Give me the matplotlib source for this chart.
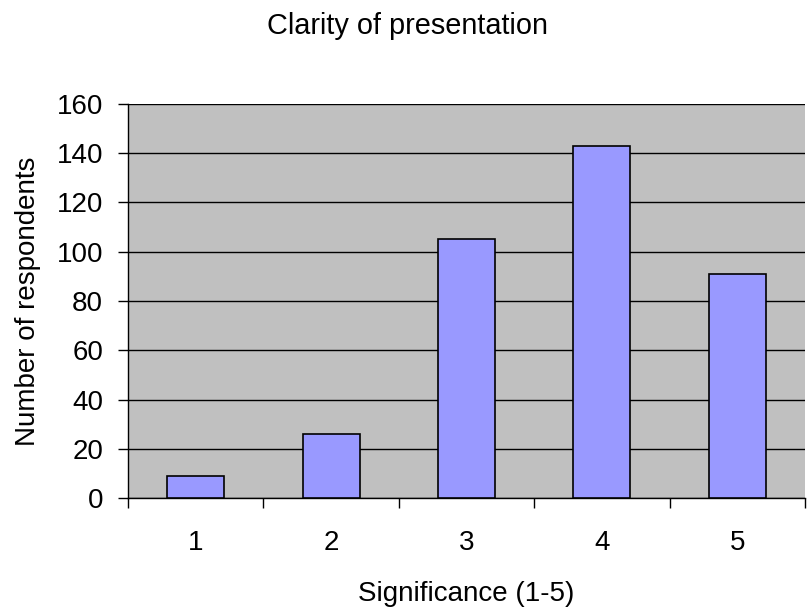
import matplotlib.pyplot as plt
import numpy as np

plt.rcParams['font.family'] = ['Liberation Sans', 'DejaVu Sans']

categories = ["1", "2", "3", "4", "5"]
respondents = [9, 26, 105, 143, 91]
y_ticks = [0, 20, 40, 60, 80, 100, 120, 140, 160]

fig = plt.figure(figsize=(8.07, 6.13), dpi=100, facecolor='white')
ax = fig.add_axes([128 / 807, 115 / 613, 677 / 807, 394 / 613])
ax.set_facecolor('#C0C0C0')

x = np.arange(len(categories))
ax.bar(x, respondents, width=0.42, color='#9999FF', edgecolor='black',
       linewidth=1.2, zorder=3)

ax.set_xlim(-0.5, len(categories) - 0.5)
ax.set_ylim(0, 160)
ax.set_yticks(y_ticks)
ax.yaxis.grid(True, color='black', linewidth=1.0, zorder=1)
ax.set_axisbelow(True)

ax.set_xticks(x)
ax.set_xticklabels(categories)
ax.set_xticks(np.arange(len(categories) + 1) - 0.5, minor=True)
ax.tick_params(axis='x', which='major', length=0, labelsize=20, pad=23)
ax.tick_params(axis='x', which='minor', length=7, width=1, direction='out')
ax.tick_params(axis='y', length=7, width=1, labelsize=20, pad=11)

for side in ['top', 'right']:
    ax.spines[side].set_visible(False)
for side in ['left', 'bottom']:
    ax.spines[side].set_linewidth(1.0)

ax.set_xlabel("Significance (1-5)", fontsize=20, labelpad=18)
ax.set_ylabel("Number of respondents", fontsize=20, labelpad=11)
fig.text(0.505, 0.958, "Clarity of presentation", ha='center', va='center', fontsize=20.8)

fig.savefig("out.png", dpi=100, facecolor='white')
